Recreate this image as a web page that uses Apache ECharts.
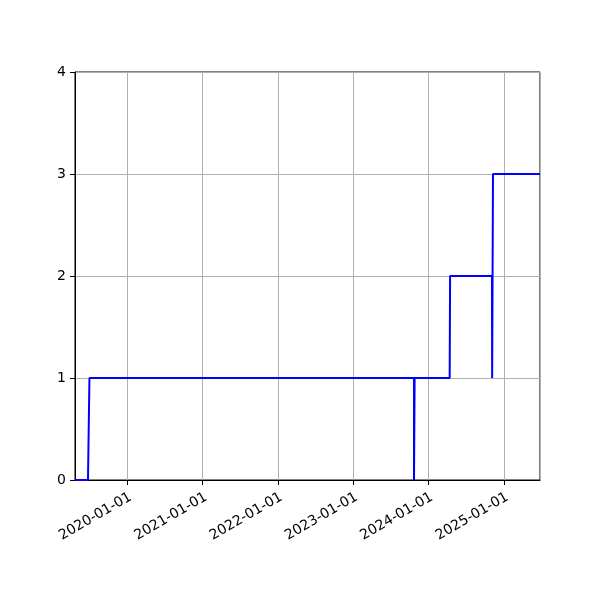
<!DOCTYPE html>
<html style="height: 100%">
<head>
<meta charset="utf-8">
</head>
<body style="height: 100%; margin: 0">
<div id="container" style="width: 600px; height: 600px"></div>
<script type="text/javascript" src="https://cdn.jsdelivr.net/npm/echarts@6/dist/echarts.min.js"></script>
<script type="text/javascript">
// step points
var dates = [
    '2019-04-23', '2019-06-25', '2019-07-02',
    '2023-10-23', '2023-10-23', '2023-10-26',
    '2024-04-13', '2024-04-15',
    '2024-11-04', '2024-11-05', '2024-11-09',
    '2025-06-25'
];
var counts = [0, 0, 1, 1, 0, 1, 1, 2, 2, 1, 3, 3];
var xStart = '2019-04-23';
var xEnd = '2025-06-25';
var yTicks = [0, 1, 2, 3, 4];

var DAY = 86400000;
var seriesData = [];
for (var i = 0; i < dates.length; i++) {
    seriesData.push([dates[i], counts[i]]);
}

var dom = document.getElementById('container');
var myChart = echarts.init(dom);
var font = 'DejaVu Sans';

var option = {
    animation: false,
    backgroundColor: '#fff',
    grid: {
        left: 75, right: 60, top: 72, bottom: 120,
        show: true, borderColor: '#000', borderWidth: 1
    },
    xAxis: {
        type: 'time',
        min: xStart,
        max: xEnd,
        minInterval: 365 * DAY,
        maxInterval: 366 * DAY,
        axisLine: { lineStyle: { color: '#000', width: 1 } },
        axisTick: { show: true, length: 5, lineStyle: { color: '#000' } },
        splitLine: { show: true, lineStyle: { color: '#b0b0b0', width: 1 } },
        axisLabel: {
            rotate: 30,
            align: 'right',
            verticalAlign: 'top',
            formatter: '{yyyy}-{MM}-{dd}',
            color: '#000',
            fontFamily: font,
            fontSize: 14,
            margin: 10,
            showMinLabel: false,
            showMaxLabel: false,
            hideOverlap: false
        }
    },
    yAxis: {
        type: 'value',
        min: yTicks[0],
        max: yTicks[yTicks.length - 1],
        interval: 1,
        axisLine: { show: true, lineStyle: { color: '#000', width: 1 } },
        axisTick: { show: true, length: 5, lineStyle: { color: '#000' } },
        splitLine: { show: true, lineStyle: { color: '#b0b0b0', width: 1 } },
        axisLabel: { color: '#000', fontFamily: font, fontSize: 14, margin: 9 }
    },
    series: [
        {
            type: 'line',
            data: seriesData,
            showSymbol: false,
            symbol: 'none',
            lineStyle: { color: '#0000ff', width: 2 }
        }
    ]
};
myChart.setOption(option, true);
</script>
</body>
</html>
